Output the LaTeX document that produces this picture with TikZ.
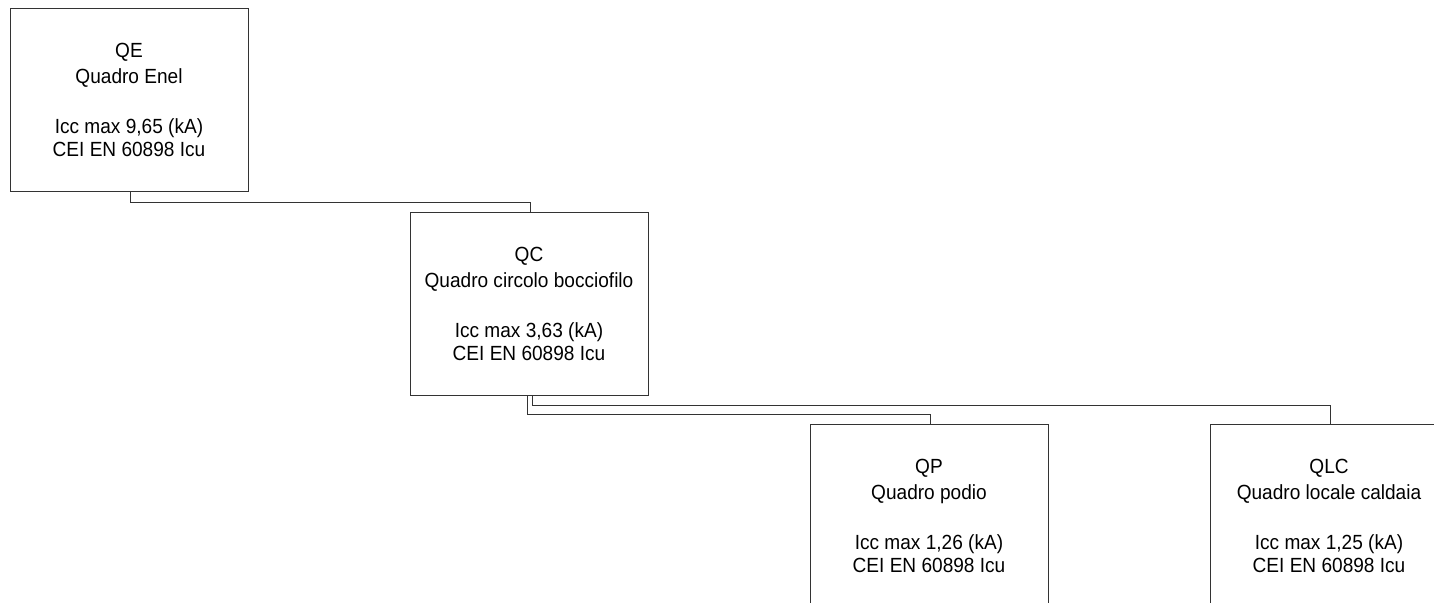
\documentclass[tikz,border=0pt]{standalone}
\usepackage{fontspec}
\setmainfont{Liberation Sans}[FakeStretch=0.93]
\begin{document}
\begin{tikzpicture}[x=1pt,y=-1pt,
  panel/.style={draw=black!80,line width=1pt,minimum width=238pt,minimum height=183pt,
    inner sep=0pt,align=center,font=\fontsize{20.5}{24}\selectfont},
  wire/.style={draw=black!80,line width=1pt}]
\useasboundingbox (0,0) rectangle (1434,602);
\clip (0,0) rectangle (1434,602);
\node[panel] (QE) at (129,100) {QE\\[2pt]Quadro Enel\\[26pt]Icc max 9,65 (kA)\\[-1pt]CEI EN 60898 Icu};
\node[panel] (QC) at (529,303.5) {QC\\[2pt]Quadro circolo bocciofilo\\[26pt]Icc max 3,63 (kA)\\[-1pt]CEI EN 60898 Icu};
\node[panel] (QP) at (929,516) {QP\\[2pt]Quadro podio\\[26pt]Icc max 1,26 (kA)\\[-1pt]CEI EN 60898 Icu};
\node[panel] (QLC) at (1329,516) {QLC\\[2pt]Quadro locale caldaia\\[26pt]Icc max 1,25 (kA)\\[-1pt]CEI EN 60898 Icu};
\draw[wire] ([xshift=1pt]QE.south) -- ++(0,10) -| ([xshift=1pt]QC.north);
\draw[wire] ([xshift=-2pt]QC.south) -- ++(0,19) -| ([xshift=1pt]QP.north);
\draw[wire] ([xshift=3pt]QC.south) -- ++(0,10) -| ([xshift=1pt]QLC.north);
\end{tikzpicture}
\end{document}
